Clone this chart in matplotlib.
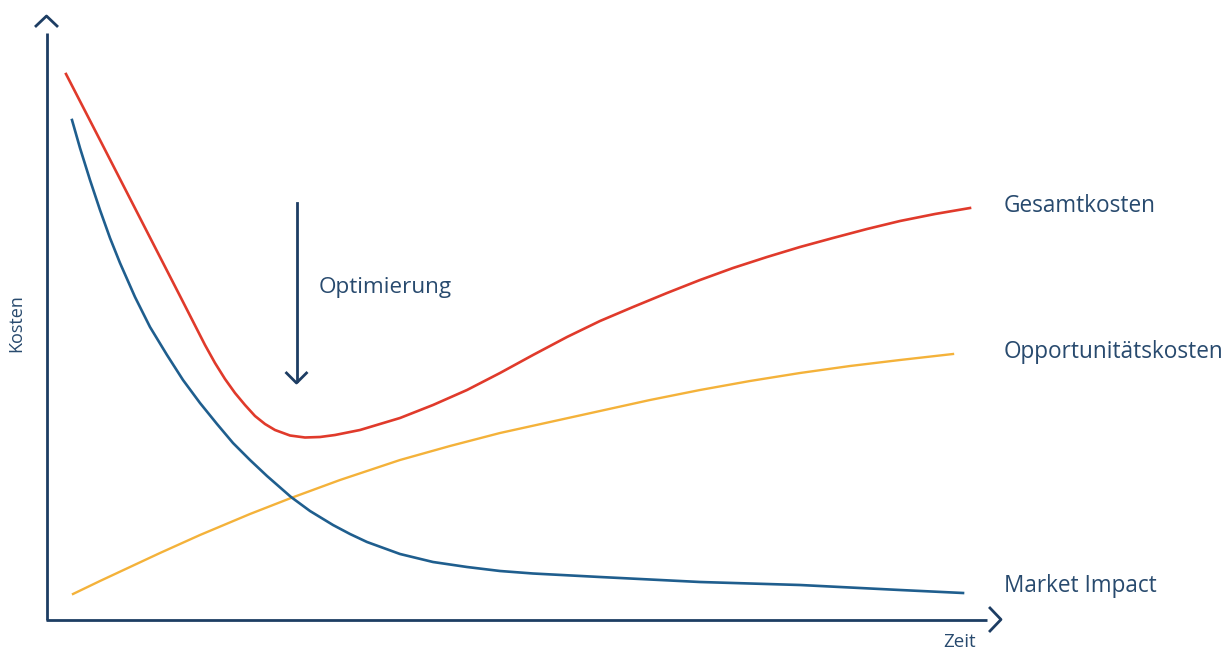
import matplotlib
matplotlib.use("Agg")
import matplotlib.pyplot as plt

# Kurven im Bildkoordinatensystem (x nach rechts, y nach unten)
market_x = [72, 80, 90, 100, 110, 120, 135, 150, 167, 183, 200, 217, 233, 250, 267, 291, 310, 333, 350, 367, 400, 433, 467, 500, 533, 600, 700, 800, 900, 963]
market_y = [120, 148, 180, 210, 238, 263, 297, 327, 355, 380, 403, 424, 443, 460, 476, 497, 511, 525, 534, 542, 554, 562, 567, 571, 573.5, 577, 582, 585, 590, 593]

gesamt_x = [66, 100, 140, 180, 205, 215, 225, 235, 245, 255, 265, 275, 290, 305, 320, 335, 360, 400, 433, 467, 500, 533, 567, 600, 633, 667, 700, 733, 767, 800, 833, 867, 900, 935, 970]
gesamt_y = [74, 140, 218, 296, 345, 363, 379, 393, 405, 416, 424, 430, 435.5, 437.5, 437, 435, 430, 418, 405, 390, 373, 355, 337, 321, 307, 293, 280, 268, 257, 247, 238, 229, 221, 214, 208]

oppo_x = [73, 100, 130, 160, 200, 250, 291, 340, 400, 450, 500, 550, 600, 650, 700, 750, 800, 850, 900, 953]
oppo_y = [594, 581, 567, 553, 535, 514, 498, 480, 460, 446, 433, 422, 411, 400, 390, 381, 373, 366, 360, 354]

labels = ["Gesamtkosten", "Opportunitätskosten", "Market Impact"]
label_y = [206, 352, 586]

NAVY = "#1d3d63"
TEXT = "#284a6e"

plt.rcParams["font.family"] = ["Open Sans", "DejaVu Sans"]

fig = plt.figure(figsize=(12.26, 6.52), dpi=100)
ax = fig.add_axes([0, 0, 1, 1])
ax.set_xlim(0, 1226)
ax.set_ylim(652, 0)
ax.axis("off")

# Achsen mit Pfeilspitzen
ax.plot([46.5, 46.5], [620, 33], color=NAVY, lw=2.0, solid_capstyle="butt")
ax.plot([36, 46.5, 57], [26, 16, 26], color=NAVY, lw=2.0)
ax.plot([45.5, 987], [619.5, 619.5], color=NAVY, lw=2.0, solid_capstyle="butt")
ax.plot([990, 1001, 990], [608, 619.5, 631], color=NAVY, lw=2.0)

ax.plot(oppo_x, oppo_y, color="#f4b23a", lw=1.7, solid_joinstyle="round")
ax.plot(market_x, market_y, color="#1f5e8e", lw=1.9, solid_joinstyle="round")
ax.plot(gesamt_x, gesamt_y, color="#e03a2b", lw=1.9, solid_joinstyle="round")

# Optimierungspfeil
ax.plot([296.5, 296.5], [203, 381], color=NAVY, lw=2.0)
ax.plot([286.5, 296.5, 306.5], [373, 383, 373], color=NAVY, lw=2.0)
ax.text(319, 288, "Optimierung", color=TEXT, fontsize=16.2, va="center", ha="left")

for lab, y in zip(labels, label_y):
    ax.text(1004, y, lab, color=TEXT, fontsize=16.3, va="center", ha="left")

ax.text(16, 323, "Kosten", color=TEXT, fontsize=13, rotation=90, va="center", ha="center")
ax.text(960, 642, "Zeit", color=TEXT, fontsize=13.5, va="center", ha="center")

fig.savefig("out.png", dpi=100)
